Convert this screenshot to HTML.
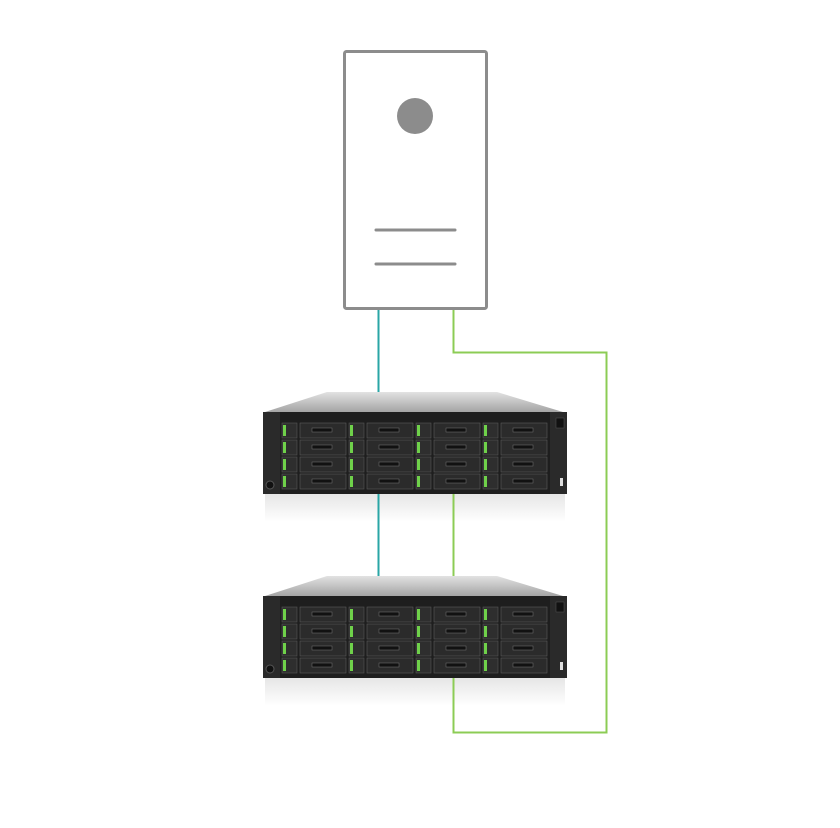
<!DOCTYPE html>
<html><head><meta charset="utf-8"><style>html,body{margin:0;padding:0;background:#fff}svg{display:block}</style></head>
<body>
<svg width="840" height="828" viewBox="0 0 840 828" xmlns="http://www.w3.org/2000/svg">
<defs>
<linearGradient id="top" x1="0" y1="0" x2="0" y2="1">
<stop offset="0" stop-color="#e2e2e2"/><stop offset="1" stop-color="#a4a4a4"/>
</linearGradient>
<linearGradient id="refl" x1="0" y1="0" x2="0" y2="1">
<stop offset="0" stop-color="#e6e6e6"/><stop offset="1" stop-color="#ffffff"/>
</linearGradient>
<g id="rack">
<rect x="265" y="102" width="300" height="28" fill="url(#refl)"/>
<polygon points="327,0 497,0 563,20 265,20" fill="url(#top)"/>
<rect x="263" y="20" width="304" height="82" fill="#1e1e1e"/>
<rect x="263" y="20" width="17" height="82" fill="#2a2a2a"/>
<rect x="550" y="20" width="17" height="82" fill="#2a2a2a"/>
<circle cx="270" cy="93" r="4" fill="#111" stroke="#555"/>
<rect x="560" y="86" width="3" height="8" fill="#ddd"/>
<rect x="556" y="26" width="8" height="10" fill="#111" stroke="#555" stroke-width="0.5"/>
<g id="row">
<g id="grp">
<rect x="282" y="31" width="15" height="15" fill="#2e2e2e" stroke="#555" stroke-width="0.6"/>
<rect x="283" y="33" width="3" height="11" fill="#6fd14a"/>
<rect x="300" y="31" width="46" height="15" fill="#2b2b2b" stroke="#5a5a5a" stroke-width="0.6"/>
<rect x="312" y="36" width="20" height="4" fill="#111" stroke="#777" stroke-width="0.5"/>
</g>
<use href="#grp" x="67"/>
<use href="#grp" x="134"/>
<use href="#grp" x="201"/>
</g>
<use href="#row" y="17"/>
<use href="#row" y="34"/>
<use href="#row" y="51"/>
</g>
</defs>
<use href="#rack" y="392"/>
<use href="#rack" y="576"/>
<rect x="344.5" y="51.5" width="142" height="257" rx="2" fill="#fff" stroke="#8c8c8c" stroke-width="3"/>
<circle cx="415" cy="116" r="18" fill="#8c8c8c"/>
<line x1="376" y1="230" x2="455" y2="230" stroke="#8c8c8c" stroke-width="3" stroke-linecap="round"/>
<line x1="376" y1="264" x2="455" y2="264" stroke="#8c8c8c" stroke-width="3" stroke-linecap="round"/>
<line x1="378.5" y1="310" x2="378.5" y2="392" stroke="#2aa6a6" stroke-width="2"/>
<line x1="378.5" y1="494" x2="378.5" y2="576" stroke="#2aa6a6" stroke-width="2"/>
<polyline points="453.5,310 453.5,352.5 606.5,352.5 606.5,732.5 453.5,732.5 453.5,678" fill="none" stroke="#8ccc55" stroke-width="2"/>
<line x1="453.5" y1="494" x2="453.5" y2="576" stroke="#8ccc55" stroke-width="2"/>
</svg>
</body></html>
